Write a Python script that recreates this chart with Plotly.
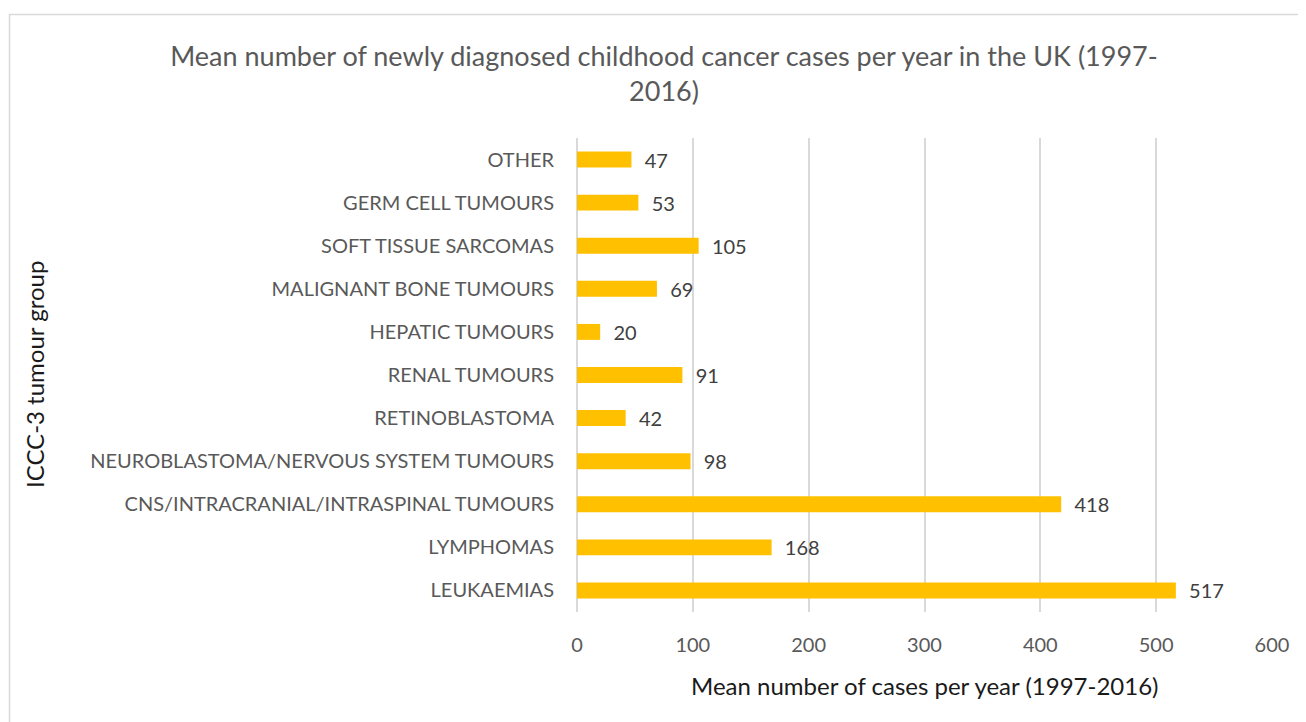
import plotly.graph_objects as go

categories = [
    "LEUKAEMIAS",
    "LYMPHOMAS",
    "CNS/INTRACRANIAL/INTRASPINAL TUMOURS",
    "NEUROBLASTOMA/NERVOUS SYSTEM TUMOURS",
    "RETINOBLASTOMA",
    "RENAL TUMOURS",
    "HEPATIC TUMOURS",
    "MALIGNANT BONE TUMOURS",
    "SOFT TISSUE SARCOMAS",
    "GERM CELL TUMOURS",
    "OTHER",
]
values = [517, 168, 418, 98, 42, 91, 20, 69, 105, 53, 47]
x_ticks = [0, 100, 200, 300, 400, 500, 600]

title_text = "Mean number of newly diagnosed childhood cancer cases per year in the UK (1997-<br>2016)"
x_title = "Mean number of cases per year (1997-2016)"
y_title = "ICCC-3 tumour group"

FONT = "Lato, 'Open Sans', sans-serif"
GREY = "#595959"

# page body has an 8px margin; work in screen pixels minus 8
OFF = 8
W, H = 1306 - OFF, 722 - OFF
L, R, T, B = 577 - OFF, 1272 - OFF, 138 - OFF, 612 - OFF

fig = go.Figure()
fig.add_trace(go.Bar(
    y=categories,
    x=values,
    orientation="h",
    marker=dict(color="#FFC000", line=dict(width=0)),
    width=0.37,
    text=["\u00a0\u00a0" + str(v) for v in values],
    textposition="outside",
    constraintext="none",
    textfont=dict(family=FONT, size=20, color="#404040"),
    cliponaxis=False,
    hoverinfo="x+y",
))

def px_to_paper_x(px):
    return (px - OFF - L) / (R - L)

def px_to_paper_y(py):
    return (B - (py - OFF)) / (B - T)

fig.update_layout(
    width=W, height=H,
    margin=dict(l=L, r=W - R, t=T, b=H - B, autoexpand=False),
    paper_bgcolor="white",
    plot_bgcolor="white",
    showlegend=False,
    font=dict(family=FONT, color=GREY),
    title=dict(
        text=title_text,
        x=(664 - OFF) / W, xanchor="center",
        y=1 - (66 - OFF) / H, yanchor="middle",
        yref="container",
        font=dict(family=FONT, size=27, color=GREY),
    ),
    xaxis=dict(
        range=[0, 600],
        tickvals=x_ticks,
        showgrid=True,
        gridcolor="#D9D9D9",
        gridwidth=1.5,
        zeroline=True,
        zerolinecolor="#D9D9D9",
        zerolinewidth=1.5,
        showline=False,
        ticks="outside",
        ticklen=15,
        tickcolor="rgba(0,0,0,0)",
        tickfont=dict(family=FONT, size=20, color=GREY),
        fixedrange=True,
    ),
    yaxis=dict(
        categoryorder="array",
        categoryarray=categories,
        showgrid=False,
        zeroline=False,
        showline=False,
        ticks="outside",
        ticklen=18,
        tickcolor="rgba(0,0,0,0)",
        tickfont=dict(family=FONT, size=20, color=GREY),
        range=[-0.5, len(categories) - 0.5],
        fixedrange=True,
    ),
    annotations=[
        dict(
            text=x_title, xref="paper", yref="paper",
            x=0.5, y=px_to_paper_y(685),
            xanchor="center", yanchor="middle", showarrow=False,
            font=dict(family=FONT, size=24, color="#1a1a1a"),
        ),
        dict(
            text=y_title, xref="paper", yref="paper",
            x=px_to_paper_x(34), y=px_to_paper_y(375),
            xanchor="center", yanchor="middle", showarrow=False,
            textangle=-90,
            font=dict(family=FONT, size=24, color="#1a1a1a"),
        ),
    ],
    shapes=[
        dict(
            type="rect", xref="paper", yref="paper",
            x0=px_to_paper_x(9.5), x1=px_to_paper_x(1330),
            y0=px_to_paper_y(750), y1=px_to_paper_y(14.5),
            line=dict(color="#D9D9D9", width=1.5),
            fillcolor="rgba(0,0,0,0)",
            layer="below",
        )
    ],
)

fig.write_html("out.html")
